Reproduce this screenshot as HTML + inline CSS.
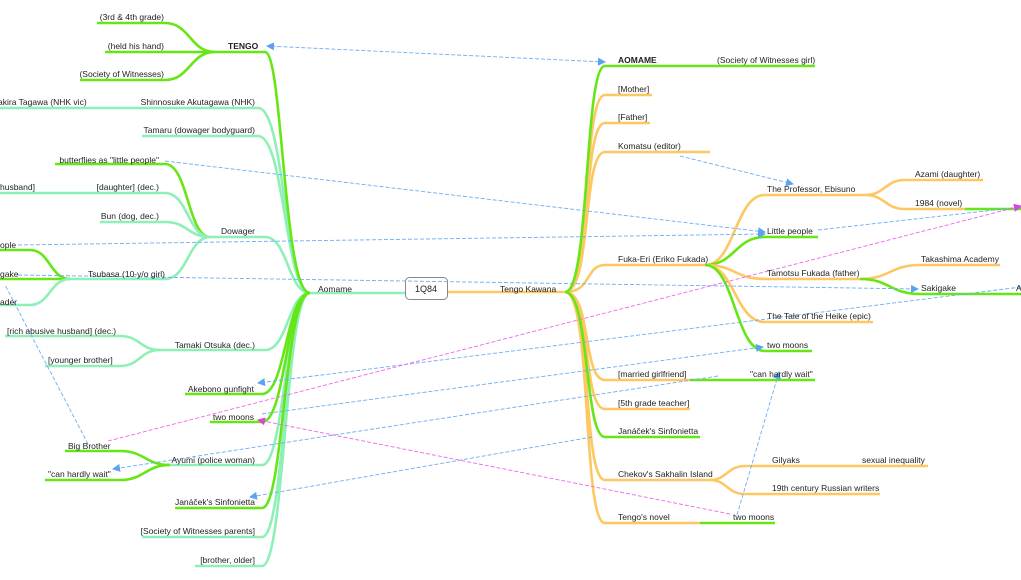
<!DOCTYPE html>
<html><head><meta charset="utf-8"><style>
html,body{margin:0;padding:0;background:#fff;width:1021px;height:580px;overflow:hidden}
svg{display:block}
text{font-family:"Liberation Sans",sans-serif;font-size:8.5px;fill:#222}
.g{stroke:#66e614;fill:none;stroke-width:2.6}
.m{stroke:#8ef0b6;fill:none;stroke-width:2.6}
.o{stroke:#fdc863;fill:none;stroke-width:2.6}
.b{stroke:#6aaef5;fill:none;stroke-width:0.9;stroke-dasharray:4 2}
.p{stroke:#ee66ee;fill:none;stroke-width:0.9;stroke-dasharray:4 2}
.r{text-anchor:end}
</style></head><body>
<svg width="1021" height="580" viewBox="0 0 1021 580">
<defs>
<marker id="ab" markerWidth="8" markerHeight="8" refX="7" refY="4" orient="auto" markerUnits="userSpaceOnUse"><path d="M0,0 L8,4 L0,8 z" fill="#5aa2f2"/></marker>
<marker id="ap" markerWidth="8" markerHeight="8" refX="7" refY="4" orient="auto" markerUnits="userSpaceOnUse"><path d="M0,0 L8,4 L0,8 z" fill="#dd44dd"/></marker>
<marker id="abs" markerWidth="8" markerHeight="8" refX="1" refY="4" orient="auto" markerUnits="userSpaceOnUse"><path d="M8,0 L0,4 L8,8 z" fill="#5aa2f2"/></marker>
</defs>

<!-- LEFT: Aomame hub -->
<path class="m" d="M405 293 L310 293"/>
<path class="m" d="M310 293 C285 293 285 108 258 108 L0 108"/>
<path class="m" d="M310 293 C285 293 285 136 258 136 L142 136"/>
<path class="m" d="M310 293 C288 293 288 237 265 237 L210 237"/>
<path class="m" d="M310 293 C288 293 288 350 265 350 L160 350"/>
<path class="m" d="M310 293 C285 293 285 465 262 465 L170 465"/>
<path class="m" d="M310 293 C285 293 285 537 262 537 L142 537"/>
<path class="m" d="M310 293 C285 293 285 566 262 566 L195 566"/>
<path class="g" d="M310 293 C283 293 283 52 265 52 L215 52"/>
<path class="g" d="M310 293 C286 293 286 394 262 394 L185 394"/>
<path class="g" d="M310 293 C286 293 286 422 262 422 L210 422"/>
<path class="g" d="M310 293 C284 293 284 508 262 508 L175 508"/>

<!-- TENGO children -->
<path class="g" d="M215 52 C190 52 190 23 165 23 L97 23"/>
<path class="g" d="M215 52 L105 52"/>
<path class="g" d="M215 52 C190 52 190 80 165 80 L80 80"/>
<!-- Dowager children -->
<path class="g" d="M210 237 C188 237 188 164 165 164 L55 164"/>
<path class="m" d="M210 237 C188 237 188 193 165 193 L0 193"/>
<path class="m" d="M210 237 C188 237 188 222 165 222 L100 222"/>
<path class="m" d="M210 237 C188 237 188 279 165 279 L70 279"/>
<!-- Tsubasa children -->
<path class="g" d="M70 279 C50 279 50 250 30 250 L0 250"/>
<path class="g" d="M70 279 L0 279"/>
<path class="m" d="M70 279 C50 279 50 305 30 305 L0 305"/>
<!-- Tamaki children -->
<path class="m" d="M160 350 C140 350 140 336 120 336 L5 336"/>
<path class="m" d="M160 350 C140 350 140 366 120 366 L45 366"/>
<!-- Ayumi children -->
<path class="g" d="M170 465 C145 465 145 451 120 451 L65 451"/>
<path class="g" d="M170 465 C145 465 145 480 120 480 L45 480"/>

<!-- RIGHT: Tengo Kawana hub -->
<path class="o" d="M447 292 L565 292"/>
<path class="o" d="M565 292 C592 292 582 95 605 95 L652 95"/>
<path class="o" d="M565 292 C592 292 582 123 605 123 L650 123"/>
<path class="o" d="M565 292 C592 292 582 152 605 152 L710 152"/>
<path class="o" d="M565 292 C592 292 585 265 605 265 L705 265"/>
<path class="o" d="M565 292 C592 292 582 380 605 380 L690 380"/>
<path class="o" d="M565 292 C592 292 582 409 605 409 L690 409"/>
<path class="o" d="M565 292 C592 292 582 480 605 480 L710 480"/>
<path class="o" d="M565 292 C592 292 582 523 605 523 L700 523"/>
<path class="g" d="M565 292 C590 292 584 66 605 66 L815 66"/>
<path class="g" d="M565 292 C590 292 584 437 605 437 L700 437"/>
<path class="g" d="M690 380 L815 380"/>
<path class="g" d="M700 523 L775 523"/>
<!-- Fuka-Eri children -->
<path class="o" d="M705 265 C735 265 735 195 765 195 L865 195"/>
<path class="g" d="M705 265 C735 265 735 237 765 237 L818 237"/>
<path class="o" d="M705 265 C735 265 735 279 765 279 L860 279"/>
<path class="o" d="M705 265 C735 265 735 322 765 322 L873 322"/>
<path class="g" d="M705 265 C735 265 735 351 765 351 L812 351"/>
<path class="o" d="M865 195 C885 195 885 180 905 180 L983 180"/>
<path class="o" d="M865 195 C885 195 885 209 905 209 L965 209"/>
<path class="g" d="M965 209 L1021 209"/>
<path class="o" d="M860 279 C890 279 890 265 920 265 L1000 265"/>
<path class="g" d="M860 279 C890 279 890 294 920 294 L1021 294"/>
<!-- Chekov children -->
<path class="o" d="M710 480 C727 480 727 466 745 466 L928 466"/>
<path class="o" d="M710 480 C727 480 727 494 745 494 L880 494"/>

<!-- root box -->
<rect x="405.5" y="277.5" width="42" height="22" rx="4" fill="#fff" stroke="#888" stroke-width="1"/>
<text x="426" y="292" text-anchor="middle" style="font-size:9px">1Q84</text>

<!-- connectors -->
<path class="b" d="M605 62 L267 46" marker-end="url(#ab)" marker-start="url(#abs)"/>
<path class="b" d="M680 156 L793 184" marker-end="url(#ab)"/>
<path class="b" d="M165 161 L765 232" marker-end="url(#ab)"/>
<path class="b" d="M18 245 L765 234" marker-end="url(#ab)"/>
<path class="b" d="M818 230 L1021 207" marker-end="url(#ab)"/>
<path class="b" d="M18 275 L918 289" marker-end="url(#ab)"/>
<path class="b" d="M1021 287 L258 383" marker-end="url(#ab)"/>
<path class="b" d="M262 414 L763 347" marker-end="url(#ab)"/>
<path class="b" d="M718 376 L113 469" marker-end="url(#ab)"/>
<path class="b" d="M592 437 L250 497" marker-end="url(#ab)"/>
<path class="b" d="M737 515 L779 372" marker-end="url(#ab)"/>
<path class="b" d="M88 444 L5 285"/>
<path class="p" d="M108 441 L1021 206" marker-end="url(#ap)"/>
<path class="p" d="M730 514 L258 420" marker-end="url(#ap)"/>

<!-- LEFT labels -->
<text x="228" y="49" style="font-weight:bold">TENGO</text>
<text class="r" x="164" y="20">(3rd &amp; 4th grade)</text>
<text class="r" x="164" y="49">(held his hand)</text>
<text class="r" x="164" y="77">(Society of Witnesses)</text>
<text x="-2" y="105">akira Tagawa (NHK vic)</text>
<text class="r" x="255" y="105">Shinnosuke Akutagawa (NHK)</text>
<text class="r" x="255" y="133">Tamaru (dowager bodyguard)</text>
<text class="r" x="159" y="163">butterflies as "little people"</text>
<text x="0" y="190">husband]</text>
<text class="r" x="159" y="190">[daughter] (dec.)</text>
<text class="r" x="159" y="219">Bun (dog, dec.)</text>
<text x="221" y="234">Dowager</text>
<text x="0" y="248">ople</text>
<text x="0" y="277">gake</text>
<text class="r" x="165" y="277">Tsubasa (10-y/o girl)</text>
<text x="0" y="305">ader</text>
<text x="318" y="292">Aomame</text>
<text x="7" y="334">[rich abusive husband] (dec.)</text>
<text x="48" y="363">[younger brother]</text>
<text class="r" x="255" y="348">Tamaki Otsuka (dec.)</text>
<text class="r" x="254" y="392">Akebono gunfight</text>
<text class="r" x="254" y="420">two moons</text>
<text x="68" y="449">Big Brother</text>
<text class="r" x="255" y="463">Ayumi (police woman)</text>
<text x="48" y="477">"can hardly wait"</text>
<text class="r" x="255" y="505">Janáček's Sinfonietta</text>
<text class="r" x="255" y="534">[Society of Witnesses parents]</text>
<text class="r" x="255" y="563">[brother, older]</text>

<!-- RIGHT labels -->
<text x="500" y="292">Tengo Kawana</text>
<text x="618" y="63" style="font-weight:bold">AOMAME</text>
<text x="717" y="63">(Society of Witnesses girl)</text>
<text x="618" y="92">[Mother]</text>
<text x="618" y="120">[Father]</text>
<text x="618" y="149">Komatsu (editor)</text>
<text x="618" y="262">Fuka-Eri (Eriko Fukada)</text>
<text x="767" y="192">The Professor, Ebisuno</text>
<text x="915" y="177">Azami (daughter)</text>
<text x="915" y="206">1984 (novel)</text>
<text x="767" y="234">Little people</text>
<text x="767" y="276">Tamotsu Fukada (father)</text>
<text x="921" y="262">Takashima Academy</text>
<text x="921" y="291">Sakigake</text>
<text x="1016" y="291">A</text>
<text x="767" y="319">The Tale of the Heike (epic)</text>
<text x="767" y="348">two moons</text>
<text x="618" y="377">[married girlfriend]</text>
<text x="750" y="377">"can hardly wait"</text>
<text x="618" y="406">[5th grade teacher]</text>
<text x="618" y="434">Janáček's Sinfonietta</text>
<text x="618" y="477">Chekov's Sakhalin Island</text>
<text x="772" y="463">Gilyaks</text>
<text x="862" y="463">sexual inequality</text>
<text x="772" y="491">19th century Russian writers</text>
<text x="618" y="520">Tengo's novel</text>
<text x="733" y="520">two moons</text>
</svg>
</body></html>
